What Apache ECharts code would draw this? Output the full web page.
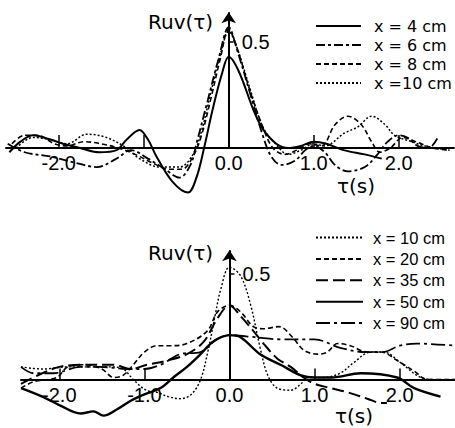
<!DOCTYPE html>
<html>
<head>
<meta charset="utf-8">
<script src="https://cdn.jsdelivr.net/npm/echarts@6/dist/echarts.min.js"></script>
<style>
  html, body { margin: 0; padding: 0; background: #fff; }
  #chart { width: 455px; height: 428px; }
</style>
</head>
<body>
<div id="chart"></div>
<script>
// tick positions / labels (tau in seconds)
const tauTicks = [-2, -1, 1, 2];
const topTauLabels = [-2, 0, 1, 2];
const bottomTauLabels = [-2, -1, 0, 1, 2];
const rLabels = [0.5];

// upper panel : Ruv(tau) for x = 4, 6, 8, 10 cm   [tau, R]
const top4 = [[-2.58,-0.02],[-2.45,0.03],[-2.3,0.06],[-2.1,0.04],[-1.95,0.02],[-1.75,0.0],[-1.52,-0.02],[-1.32,-0.01],[-1.2,0.04],[-1.05,0.085],[-0.95,0.04],[-0.85,-0.04],[-0.66,-0.16],[-0.48,-0.21],[-0.38,-0.14],[-0.29,0.0],[-0.19,0.18],[-0.08,0.35],[0,0.43],[0.12,0.36],[0.29,0.18],[0.4,0.09],[0.56,0.02],[0.7,0.0],[0.85,0.01],[1.0,0.03],[1.15,0.02],[1.35,-0.01],[1.6,-0.03],[1.8,-0.05]];
const top6 = [[-2.6,0.02],[-2.4,-0.02],[-2.1,-0.04],[-1.8,-0.07],[-1.55,-0.09],[-1.32,-0.05],[-1.15,-0.01],[-0.95,-0.05],[-0.75,-0.1],[-0.58,-0.14],[-0.45,-0.08],[-0.38,0.02],[-0.25,0.22],[-0.12,0.42],[0,0.57],[0.1,0.46],[0.25,0.26],[0.4,0.06],[0.5,-0.04],[0.62,-0.08],[0.78,-0.06],[0.9,-0.01],[1.0,0.01],[1.13,-0.02],[1.25,-0.08],[1.4,-0.11],[1.6,-0.09],[1.75,-0.03],[1.87,0.03],[2.0,0.06],[2.1,0.05],[2.22,0.01],[2.35,0.0],[2.46,0.05]];
const top8 = [[-2.55,0.02],[-2.4,0.06],[-2.25,0.06],[-2.05,0.02],[-1.9,0.01],[-1.7,0.03],[-1.5,0.02],[-1.3,0.0],[-1.1,-0.03],[-0.9,-0.07],[-0.7,-0.1],[-0.55,-0.1],[-0.42,-0.04],[-0.32,0.06],[-0.2,0.25],[-0.1,0.42],[0,0.56],[0.1,0.47],[0.25,0.27],[0.4,0.1],[0.52,0.0],[0.66,-0.03],[0.8,-0.01],[0.95,0.02],[1.09,0.01],[1.25,0.11],[1.4,0.15],[1.56,0.11],[1.68,0.03],[1.78,-0.02],[1.9,0.0],[2.05,0.05],[2.2,0.03],[2.4,0.0],[2.6,-0.01]];
const top10 = [[-2.5,0.0],[-2.3,0.05],[-2.1,0.04],[-1.9,0.02],[-1.67,0.065],[-1.44,0.05],[-1.2,0.0],[-1.05,-0.05],[-0.81,-0.09],[-0.58,-0.09],[-0.42,-0.03],[-0.32,0.08],[-0.2,0.28],[-0.1,0.44],[0,0.55],[0.1,0.47],[0.25,0.28],[0.4,0.1],[0.55,0.02],[0.7,-0.03],[0.85,-0.01],[1.0,0.02],[1.13,0.01],[1.36,0.07],[1.52,0.1],[1.68,0.15],[1.84,0.11],[1.95,0.06],[2.15,0.03],[2.3,0.01],[2.6,-0.01]];

// lower panel : x = 10, 20, 35, 50, 90 cm
const bot10 = [[-2.45,0.06],[-2.2,0.05],[-1.9,0.06],[-1.6,0.06],[-1.4,0.06],[-1.25,0.05],[-1.13,0.0],[-0.98,-0.05],[-0.85,-0.06],[-0.72,-0.08],[-0.58,-0.09],[-0.45,-0.07],[-0.34,0.0],[-0.25,0.14],[-0.17,0.3],[-0.1,0.43],[0,0.53],[0.13,0.49],[0.25,0.35],[0.36,0.15],[0.45,0.02],[0.56,-0.04],[0.72,-0.05],[0.84,-0.02],[0.92,0.01],[1.1,0.01],[1.3,0.03],[1.46,0.08],[1.66,0.13],[1.81,0.13],[2.01,0.08],[2.25,0.01],[2.45,0.0],[2.65,0.0]];
const bot20 = [[-2.45,-0.04],[-2.3,-0.01],[-2.03,0.01],[-1.9,0.06],[-1.7,0.07],[-1.5,0.05],[-1.36,0.01],[-1.25,0.02],[-1.13,0.07],[-1.0,0.13],[-0.85,0.16],[-0.7,0.16],[-0.5,0.17],[-0.26,0.23],[-0.14,0.32],[0,0.35],[0.13,0.32],[0.28,0.25],[0.4,0.24],[0.58,0.25],[0.74,0.2],[0.87,0.14],[1.03,0.12],[1.15,0.13],[1.27,0.17],[1.42,0.16],[1.62,0.13],[1.78,0.13],[1.97,0.09],[2.17,0.04],[2.33,0.0],[2.65,0.0]];
const bot35 = [[-2.45,-0.02],[-2.2,0.03],[-2.0,0.06],[-1.75,0.07],[-1.36,0.07],[-1.16,0.05],[-0.97,0.07],[-0.73,0.09],[-0.5,0.12],[-0.3,0.18],[-0.14,0.29],[0,0.35],[0.13,0.3],[0.28,0.23],[0.4,0.17],[0.56,0.1],[0.72,0.06],[0.87,0.01],[1.0,-0.02],[1.19,-0.04],[1.39,-0.06],[1.62,-0.09],[1.78,-0.11],[1.85,-0.11]];
const bot50 = [[-2.45,-0.04],[-2.2,-0.08],[-2.0,-0.12],[-1.75,-0.16],[-1.6,-0.15],[-1.48,-0.17],[-1.32,-0.14],[-1.16,-0.1],[-1.0,-0.07],[-0.81,-0.04],[-0.66,0.01],[-0.5,0.06],[-0.34,0.12],[-0.19,0.18],[0,0.21],[0.13,0.2],[0.36,0.12],[0.6,0.07],[0.84,0.02],[1.0,0.01],[1.2,0.01],[1.54,0.03],[1.97,0.01],[2.17,-0.04],[2.48,-0.08]];
const bot90 = [[-2.45,0.06],[-2.3,0.03],[-2.07,0.03],[-1.75,0.06],[-1.52,0.06],[-1.2,0.05],[-1.0,0.05],[-0.81,0.07],[-0.58,0.12],[-0.34,0.13],[-0.15,0.19],[0,0.21],[0.3,0.2],[0.6,0.19],[1.0,0.19],[1.3,0.15],[1.6,0.13],[1.8,0.13],[2.0,0.16],[2.2,0.17],[2.65,0.16]];

const topNames = ['x = 4 cm', 'x = 6 cm', 'x = 8 cm', 'x =10 cm'];
const bottomNames = ['x = 10 cm', 'x = 20 cm', 'x = 35 cm', 'x = 50 cm', 'x = 90 cm'];

const ink = '#000';
const chart = echarts.init(document.getElementById('chart'), null, { renderer: 'svg' });

// grid boxes (pixels) and value ranges
const topGrid = { left: 6, width: 448, top: 6, height: 195 };
const botGrid = { left: 21, width: 434, top: 245, height: 177 };
const topX = [-2.62, 2.65], topY = [-0.25, 0.67];
const botX = [-2.45, 2.65], botY = [-0.2, 0.635];

// axes are moved onto the zero lines with offset
function zeroOffsetX(g, yr) { return -(g.height * (0 - yr[0]) / (yr[1] - yr[0])); }
function zeroOffsetY(g, xr) { return -(g.width * (0 - xr[0]) / (xr[1] - xr[0])); }

function xAxisFor(gridIndex, g, xr, yr, labels, tickLen) {
  return {
    gridIndex: gridIndex,
    type: 'value',
    min: xr[0],
    max: xr[1],
    offset: zeroOffsetX(g, yr),
    axisLine: { onZero: false, lineStyle: { color: ink, width: 2 } },
    axisTick: { inside: true, length: tickLen, customValues: tauTicks, lineStyle: { color: ink, width: 1.5 } },
    axisLabel: {
      customValues: labels,
      formatter: v => v.toFixed(1),
      color: ink,
      fontFamily: 'Liberation Sans',
      fontSize: 20,
      margin: 5
    },
    splitLine: { show: false }
  };
}

function yAxisFor(gridIndex, g, xr, yr) {
  return {
    gridIndex: gridIndex,
    type: 'value',
    min: yr[0],
    max: yr[1],
    offset: zeroOffsetY(g, xr),
    axisLine: { show: false, onZero: false },
    axisTick: { inside: true, length: 5, customValues: rLabels, lineStyle: { color: ink, width: 1.5 } },
    axisLabel: {
      inside: true,
      customValues: rLabels,
      formatter: v => v.toFixed(1),
      color: ink,
      fontFamily: 'Liberation Sans',
      fontSize: 20,
      margin: 13
    },
    splitLine: { show: false }
  };
}

// vertical axis drawn only from 0 upwards with an arrow
function upArrow(top) {
  return {
    silent: true,
    symbol: ['none', 'arrow'],
    symbolSize: 11,
    label: { show: false },
    lineStyle: { color: ink, width: 2, type: 'solid' },
    data: [[{ coord: [0, 0] }, { coord: [0, top] }]]
  };
}

function curve(name, data, grid, style, extra) {
  const s = {
    name: name,
    type: 'line',
    xAxisIndex: grid,
    yAxisIndex: grid,
    data: data,
    smooth: 0.35,
    symbol: 'none',
    lineStyle: Object.assign({ color: ink }, style),
    itemStyle: { color: ink }
  };
  return Object.assign(s, extra || {});
}

const option = {
  animation: false,
  backgroundColor: '#fff',
  title: [
    { text: 'Ruv(τ)', left: 148, top: 12 },
    { text: 'τ(s)', left: 337, top: 176 },
    { text: 'Ruv(τ)', left: 148, top: 243 },
    { text: 'τ(s)', left: 335, top: 406 }
  ].map(t => Object.assign(t, {
    padding: 0,
    textStyle: { color: ink, fontFamily: 'DejaVu Sans', fontSize: 20, fontWeight: 'normal' }
  })),
  legend: [
    {
      data: topNames,
      orient: 'vertical',
      left: 310,
      top: 13,
      itemWidth: 45,
      itemHeight: 14,
      itemGap: 3,
      itemStyle: { opacity: 0 },
      textStyle: { color: ink, fontFamily: 'DejaVu Sans', fontSize: 16, padding: [0, 0, 0, 8] }
    },
    {
      data: bottomNames,
      orient: 'vertical',
      left: 310,
      top: 224,
      itemWidth: 47,
      itemHeight: 14,
      itemGap: 4.4,
      itemStyle: { opacity: 0 },
      textStyle: { color: ink, fontFamily: 'Liberation Sans', fontSize: 16.5, padding: [0, 0, 0, 5] }
    }
  ],
  grid: [topGrid, botGrid],
  xAxis: [
    xAxisFor(0, topGrid, topX, topY, topTauLabels, 13),
    xAxisFor(1, botGrid, botX, botY, bottomTauLabels, 11)
  ],
  yAxis: [
    yAxisFor(0, topGrid, topX, topY),
    yAxisFor(1, botGrid, botX, botY)
  ],
  series: [
    curve(topNames[0], top4, 0, { width: 2, type: 'solid' }, { markLine: upArrow(0.64) }),
    curve(topNames[1], top6, 0, { width: 1.8, type: [9, 3, 3, 3] }),
    curve(topNames[2], top8, 0, { width: 1.6, type: [5, 3] }),
    curve(topNames[3], top10, 0, { width: 1.5, type: [2, 2] }),
    curve(bottomNames[0], bot10, 1, { width: 1.4, type: [2, 2] }, { markLine: upArrow(0.61) }),
    curve(bottomNames[1], bot20, 1, { width: 1.6, type: [5, 3] }),
    curve(bottomNames[2], bot35, 1, { width: 2, type: [12, 5] }),
    curve(bottomNames[3], bot50, 1, { width: 2.4, type: 'solid' }),
    curve(bottomNames[4], bot90, 1, { width: 1.8, type: [14, 4, 3, 4] })
  ]
};

chart.setOption(option);
</script>
</body>
</html>
